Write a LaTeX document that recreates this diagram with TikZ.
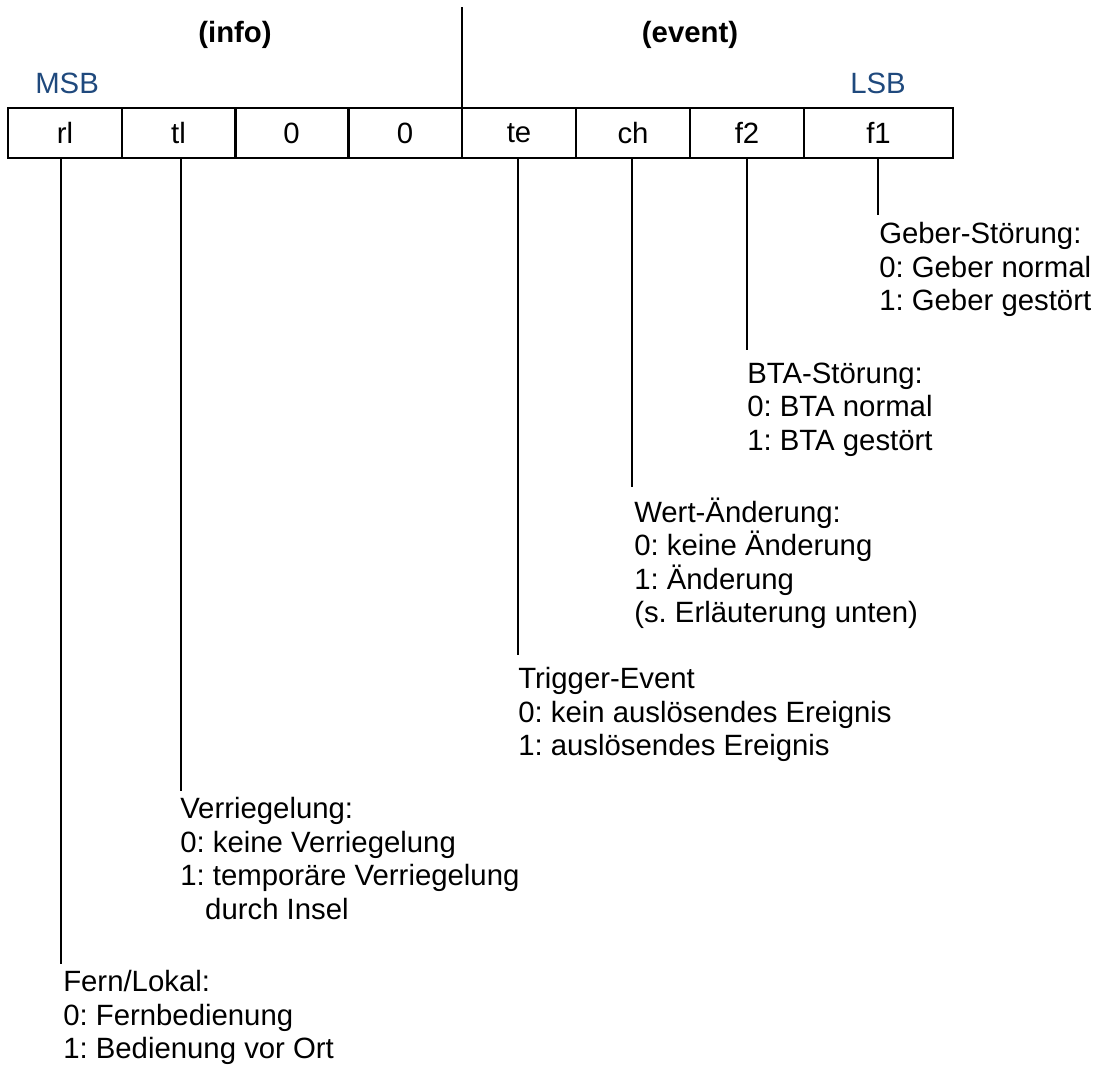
\documentclass[tikz,border=0pt]{standalone}
\usepackage{fontspec}
\setmainfont{Liberation Sans}
\frenchspacing
\definecolor{bitblue}{RGB}{31,73,125}
\begin{document}
\begin{tikzpicture}[x=0.75pt,y=-0.75pt,
  txt/.style={font=\fontsize{22}{25.1}\selectfont},
  cell/.style={txt,draw,line width=1.5pt,minimum height=37.5pt,minimum width=85.5pt,inner sep=0pt},
  head/.style={txt,font=\fontsize{22}{25.1}\selectfont\bfseries,anchor=base,inner sep=0pt},
  bitlabel/.style={txt,text=bitblue,anchor=base west,inner sep=0pt},
  desc/.style={txt,anchor=north west,align=left,inner sep=0pt,yshift=20pt,
    execute at begin node={\rule{0pt}{20pt}}},
  lead/.style={line width=1pt}]
\useasboundingbox (0,0) rectangle (1100,1067);

% header split between the info and event halves
\coordinate (divtop) at (462,7);
\node[head] (info) at (235,42) {(info)};
\node[head] (event) at (690,42) {(event)};
\node[bitlabel] (msb) at (35,93) {MSB};
\node[bitlabel] (lsb) at (850,93) {LSB};

% the eight bits of the byte
\node[cell] (rl) at (65,133) {rl};
\node[cell] (tl) at (178.5,133) {tl};
\node[cell] (b5) at (291.5,133) {0};
\node[cell] (b4) at (405,133) {0};
\node[cell] (te) at (519,133) {te};
\node[cell] (ch) at (633,133) {ch};
\node[cell] (f2) at (747,133) {f2};
\node[cell,minimum width=111.75pt] (f1) at (878.5,133) {f1};

\draw[lead] (divtop) -- (divtop |- te.north);

% lead ends
\coordinate (rlend) at (61,964);
\coordinate (tlend) at (181,791);
\coordinate (teend) at (518,655);
\coordinate (chend) at (632,487);
\coordinate (f2end) at (747,350);
\coordinate (f1end) at (878,215);

\draw[lead] (rlend |- rl.south) -- (rlend);
\draw[lead] (tlend |- tl.south) -- (tlend);
\draw[lead] (teend |- te.south) -- (teend);
\draw[lead] (chend |- ch.south) -- (chend);
\draw[lead] (f2end |- f2.south) -- (f2end);
\draw[lead] (f1end |- f1.south) -- (f1end);

% explanations of the bits
\node[desc] (f1txt) at (879,249) {Geber-Störung:\\0: Geber normal\\1: Geber gestört};
\node[desc] (f2txt) at (747,389) {BTA-Störung:\\0: BTA normal\\1: BTA gestört};
\node[desc] (chtxt) at (634,524) {Wert-Änderung:\\0: keine Änderung\\1: Änderung\\(s. Erläuterung unten)};
\node[desc] (tetxt) at (518,694) {Trigger-Event\\0: kein auslösendes Ereignis\\1: auslösendes Ereignis};
\node[desc] (tltxt) at (180,824) {Verriegelung:\\0: keine Verriegelung\\1: temporäre Verriegelung\\\hspace*{0.85em}durch Insel};
\node[desc] (rltxt) at (63,997) {Fern/Lokal:\\0: Fernbedienung\\1: Bedienung vor Ort};
\end{tikzpicture}
\end{document}
